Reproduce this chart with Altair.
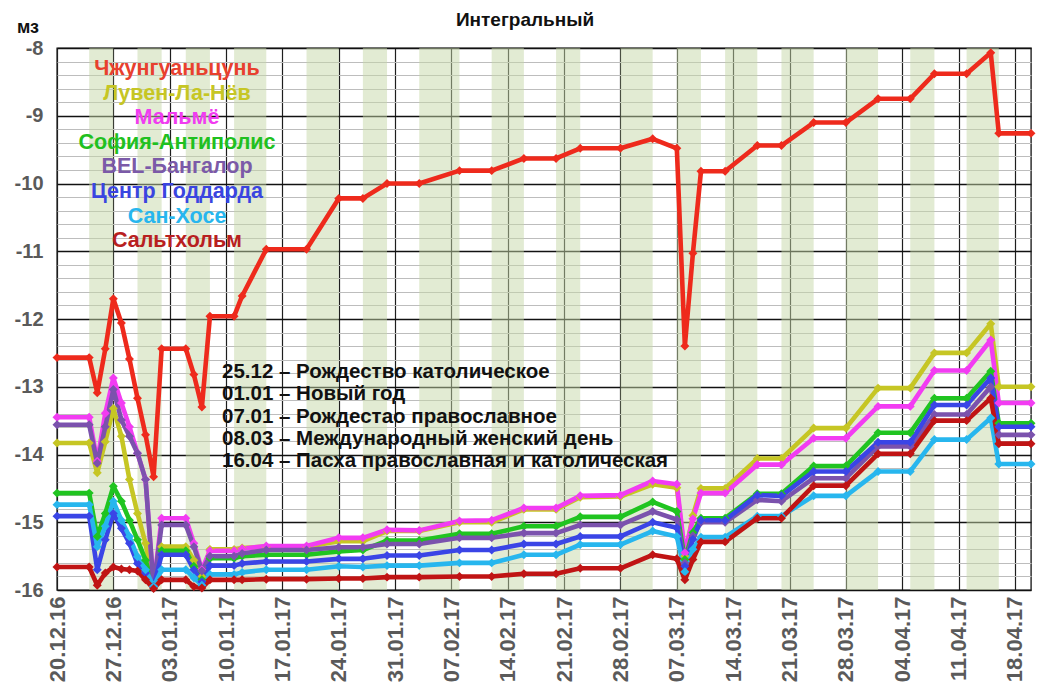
import altair as alt
import pandas as pd
import numpy as np

START = "2016-12-20"

dates = ["2016-12-20", "2016-12-24", "2016-12-25", "2016-12-26", "2016-12-27", "2016-12-28",
         "2016-12-29", "2016-12-30", "2016-12-31", "2017-01-01", "2017-01-02", "2017-01-05",
         "2017-01-06", "2017-01-07", "2017-01-08", "2017-01-11", "2017-01-12", "2017-01-15",
         "2017-01-20", "2017-01-24", "2017-01-27", "2017-01-30", "2017-02-03", "2017-02-08",
         "2017-02-12", "2017-02-16", "2017-02-20", "2017-02-23", "2017-02-28", "2017-03-04",
         "2017-03-07", "2017-03-08", "2017-03-09", "2017-03-10", "2017-03-13", "2017-03-17",
         "2017-03-20", "2017-03-24", "2017-03-28", "2017-04-01", "2017-04-05", "2017-04-08",
         "2017-04-12", "2017-04-15", "2017-04-16", "2017-04-20"]

zhongguancun = [-12.57, -12.57, -13.09, -12.44, -11.70, -12.06, -12.59, -13.17, -13.71, -14.33,
                -12.44, -12.44, -12.82, -13.30, -11.96, -11.96, -11.66, -10.97, -10.97, -10.22,
                -10.22, -10.00, -10.00, -9.81, -9.81, -9.63, -9.63, -9.48, -9.48, -9.34,
                -9.48, -12.40, -11.03, -9.82, -9.82, -9.44, -9.44, -9.10, -9.10, -8.75,
                -8.75, -8.38, -8.38, -8.07, -9.26, -9.26]
louvain = [-13.83, -13.83, -14.27, -13.81, -13.32, -13.73, -14.37, -14.87, -15.31, -15.95,
           -15.36, -15.36, -15.56, -15.80, -15.40, -15.40, -15.38, -15.36, -15.36, -15.28,
           -15.28, -15.13, -15.13, -15.00, -15.00, -14.81, -14.81, -14.63, -14.62, -14.44,
           -14.49, -15.50, -14.90, -14.50, -14.50, -14.06, -14.06, -13.61, -13.61, -13.02,
           -13.02, -12.50, -12.50, -12.07, -13.00, -13.00]
malmo = [-13.45, -13.45, -14.10, -13.39, -12.87, -13.24, -13.59, -13.98, -14.37, -15.95,
         -14.94, -14.94, -15.31, -15.70, -15.42, -15.42, -15.39, -15.35, -15.35, -15.23,
         -15.23, -15.11, -15.12, -14.98, -14.97, -14.79, -14.79, -14.61, -14.60, -14.39,
         -14.44, -15.45, -14.95, -14.57, -14.57, -14.15, -14.15, -13.76, -13.76, -13.29,
         -13.29, -12.76, -12.76, -12.31, -13.24, -13.24]
sophia = [-14.57, -14.57, -15.21, -14.87, -14.47, -14.69, -14.97, -15.26, -15.56, -15.95,
          -15.42, -15.42, -15.65, -15.85, -15.53, -15.53, -15.50, -15.48, -15.48, -15.43,
          -15.41, -15.27, -15.27, -15.17, -15.17, -15.06, -15.06, -14.92, -14.92, -14.70,
          -14.84, -15.55, -15.15, -14.94, -14.94, -14.58, -14.58, -14.17, -14.17, -13.68,
          -13.68, -13.17, -13.17, -12.77, -13.54, -13.54]
bangalore = [-13.56, -13.56, -14.13, -13.59, -13.04, -13.49, -13.73, -13.98, -14.37, -15.95,
             -15.04, -15.04, -15.36, -15.72, -15.50, -15.50, -15.46, -15.41, -15.41, -15.37,
             -15.37, -15.32, -15.32, -15.23, -15.23, -15.16, -15.16, -15.04, -15.04, -14.84,
             -14.96, -15.60, -15.20, -15.00, -15.00, -14.67, -14.69, -14.35, -14.35, -13.88,
             -13.88, -13.41, -13.41, -13.00, -13.71, -13.71]
goddard = [-14.91, -14.91, -15.70, -15.26, -14.87, -15.09, -15.31, -15.61, -15.75, -15.95,
           -15.48, -15.48, -15.70, -15.88, -15.64, -15.64, -15.61, -15.58, -15.58, -15.54,
           -15.54, -15.49, -15.49, -15.41, -15.41, -15.32, -15.32, -15.21, -15.21, -15.00,
           -15.08, -15.65, -15.25, -14.97, -14.97, -14.60, -14.61, -14.25, -14.25, -13.82,
           -13.82, -13.27, -13.27, -12.87, -13.59, -13.59]
san_jose = [-14.74, -14.74, -15.36, -15.06, -14.69, -14.97, -15.21, -15.51, -15.70, -15.95,
            -15.70, -15.70, -15.82, -15.93, -15.77, -15.77, -15.74, -15.70, -15.70, -15.65,
            -15.66, -15.64, -15.64, -15.60, -15.60, -15.48, -15.48, -15.33, -15.33, -15.13,
            -15.21, -15.73, -15.40, -15.22, -15.22, -14.91, -14.91, -14.61, -14.61, -14.25,
            -14.25, -13.78, -13.78, -13.46, -14.14, -14.14]
saltholm = [-15.66, -15.66, -15.93, -15.75, -15.66, -15.69, -15.70, -15.72, -15.85, -15.98,
            -15.85, -15.85, -15.95, -15.97, -15.85, -15.85, -15.85, -15.84, -15.84, -15.83,
            -15.83, -15.81, -15.81, -15.80, -15.80, -15.76, -15.76, -15.68, -15.68, -15.48,
            -15.54, -15.85, -15.55, -15.29, -15.29, -14.94, -14.94, -14.46, -14.46, -13.99,
            -13.99, -13.50, -13.50, -13.17, -13.84, -13.84]

series_names = ["Чжунгуаньцунь", "Лувен-Ла-Нёв", "Мальмё", "София-Антиполис",
                "BEL-Бангалор", "Центр Годдарда", "Сан-Хосе", "Сальтхольм"]
series_values = [zhongguancun, louvain, malmo, sophia, bangalore, goddard, san_jose, saltholm]
series_colors = ["#ee2a1c", "#c6c624", "#f23cf2", "#20c420", "#7b52ad", "#3a45e6", "#27b6ee", "#c01414"]
legend_colors = ["#e8402e", "#c6c624", "#f03cf0", "#20c020", "#7b5aa8", "#3a45e0", "#27b6ee", "#b82020"]

band_starts = ["2016-12-24", "2016-12-30", "2017-01-05", "2017-01-11", "2017-01-20", "2017-01-27",
               "2017-02-03", "2017-02-12", "2017-02-20", "2017-02-28", "2017-03-07", "2017-03-13",
               "2017-03-20", "2017-03-28", "2017-04-05", "2017-04-12"]
band_ends = ["2016-12-27", "2017-01-02", "2017-01-08", "2017-01-15", "2017-01-24", "2017-01-30",
             "2017-02-08", "2017-02-16", "2017-02-23", "2017-03-04", "2017-03-10", "2017-03-17",
             "2017-03-24", "2017-04-01", "2017-04-08", "2017-04-16"]

annotations = ["25.12 – Рождество католическое",
               "01.01 – Новый год",
               "07.01 – Рождестао православное",
               "08.03 – Международный женский день",
               "16.04 – Пасха православная и католическая"]

title_text = "Интегральный"
unit_text = "мз"
x_end = "2017-04-20"

start = pd.Timestamp(START)


def day_of(s):
    return (pd.Timestamp(s) - start).days


rows = []
for name, vals in zip(series_names, series_values):
    for d, v in zip(dates, vals):
        rows.append({"series": name, "date": d, "day": day_of(d), "value": v})
df = pd.DataFrame(rows)

bands = pd.DataFrame({"s": [day_of(s) for s in band_starts], "e": [day_of(e) for e in band_ends]})

W, H = 974, 542
x_max = day_of(x_end)
x_scale = alt.Scale(domain=[0, x_max], nice=False, zero=False)
y_scale = alt.Scale(domain=[-16, -8], nice=False, zero=False)

y_vals = [round(v, 1) for v in np.arange(-16, -7.99, 0.2)]
is_major = "abs(datum.value - round(datum.value)) < 0.001"

band_layer = alt.Chart(bands).mark_rect(color="#c6d8a8", opacity=0.5).encode(
    x=alt.X("s:Q", scale=x_scale,
            axis=alt.Axis(values=list(range(0, x_max, 7)),
                          labelExpr="timeFormat(datetime(2016, 11, 20 + datum.value), '%d.%m.%y')",
                          labelAngle=270, labelFontSize=22, labelFontWeight="bold",
                          labelColor="#5a5a5a", labelFont="Liberation Sans", labelPadding=6,
                          grid=True, gridColor="#1e1e1e", gridWidth=1.2, ticks=False,
                          domain=False, title=None, labelOverlap=False)),
    x2="e:Q",
    y=alt.value(0),
    y2=alt.value(H),
)

y_axis = alt.Axis(values=y_vals, labelExpr=f"({is_major}) ? datum.value : ''",
                  labelFontSize=20, labelFontWeight="bold", labelColor="#5a5a5a",
                  labelFont="Liberation Sans", labelPadding=14, ticks=False, domain=False,
                  grid=True,
                  gridColor={"condition": {"test": is_major, "value": "#111111"}, "value": "#bdbdbd"},
                  gridWidth={"condition": {"test": is_major, "value": 1.3}, "value": 1},
                  title=None, labelOverlap=False)

lines = alt.Chart(df).mark_line(
    strokeWidth=4.6, strokeJoin="round", strokeCap="round",
    point=alt.OverlayMarkDef(shape="diamond", size=80, filled=True, opacity=1),
).encode(
    x=alt.X("day:Q", scale=x_scale),
    y=alt.Y("value:Q", scale=y_scale, axis=y_axis),
    color=alt.Color("series:N", scale=alt.Scale(domain=series_names, range=series_colors), legend=None),
    order=alt.Order("day:Q"),
)

layers = [band_layer, lines]

for i, (name, col) in enumerate(zip(series_names, legend_colors)):
    layers.append(
        alt.Chart(pd.DataFrame({"t": [name]})).mark_text(
            font="Liberation Sans", fontSize=21.5, fontWeight="bold", color=col,
            align="center", baseline="middle",
        ).encode(text="t:N", x=alt.value(120), y=alt.value(21 + i * 24.6))
    )

for i, line in enumerate(annotations):
    layers.append(
        alt.Chart(pd.DataFrame({"t": [line]})).mark_text(
            font="Liberation Sans", fontSize=20.5, fontWeight="bold", color="#111111",
            align="left", baseline="middle",
        ).encode(text="t:N", x=alt.value(165), y=alt.value(324 + i * 22.3))
    )

layers.append(
    alt.Chart(pd.DataFrame({"t": [title_text]})).mark_text(
        font="Liberation Sans", fontSize=19, fontWeight="bold", color="#111111",
        align="center", baseline="middle",
    ).encode(text="t:N", x=alt.value(468), y=alt.value(-28))
)
layers.append(
    alt.Chart(pd.DataFrame({"t": [unit_text]})).mark_text(
        font="Liberation Sans", fontSize=18, fontWeight="bold", color="#111111",
        align="center", baseline="middle",
    ).encode(text="t:N", x=alt.value(-29), y=alt.value(-20))
)

chart = alt.layer(*layers).properties(
    width=W, height=H,
    autosize=alt.AutoSizeParams(type="none"),
    padding={"left": 49, "top": 40, "right": 12, "bottom": 100},
    background="white",
).configure_view(stroke="#222222", strokeWidth=1.4)

chart.save("out.html", embed_options={"renderer": "svg", "actions": False})
